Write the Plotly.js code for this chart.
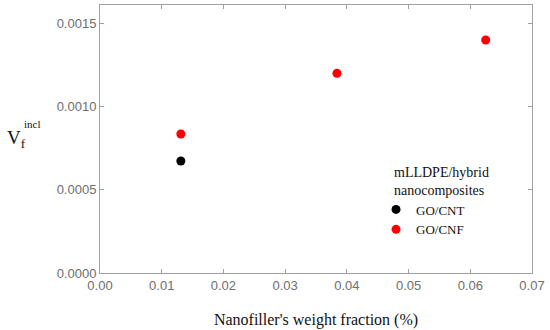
<!DOCTYPE html>
<html>
<head>
<meta charset="utf-8">
<script src="https://cdn.plot.ly/plotly-3.0.1.min.js"></script>
<style>
  body { margin: 0; background: #fff; }
  #chart { width: 550px; height: 330px; }
</style>
</head>
<body>
<div id="chart"></div>
<script>
// values
var cnt_x = [0.0131];
var cnt_y = [0.000673];
var cnf_x = [0.0131, 0.0384, 0.0625];
var cnf_y = [0.000835, 0.00120, 0.00140];

var serif = 'Liberation Serif, Times New Roman, serif';
var frame = 'rgb(160,160,160)';

var data = [
    {
        x: cnt_x, y: cnt_y,
        mode: 'markers', type: 'scatter',
        name: 'GO/CNT',
        marker: {color: 'black', size: 9}
    },
    {
        x: cnf_x, y: cnf_y,
        mode: 'markers', type: 'scatter',
        name: 'GO/CNF',
        marker: {color: 'rgb(255,0,0)', size: 9}
    }
];

var layout = {
    width: 550,
    height: 330,
    margin: {l: 100, r: 18, t: 5, b: 57},
    paper_bgcolor: 'white',
    plot_bgcolor: 'white',
    xaxis: {
        range: [0, 0.07],
        dtick: 0.01,
        tickformat: '.2f',
        showgrid: false,
        zeroline: false,
        showline: true,
        mirror: 'ticks',
        linecolor: frame,
        ticks: 'inside',
        ticklen: 4,
        tickcolor: frame,
        tickfont: {family: 'Liberation Sans, Arial, sans-serif', size: 13, color: 'rgb(110,110,110)'},
        title: {text: "Nanofiller's weight fraction (%)", font: {family: serif, size: 16, color: '#111'}, standoff: 22}
    },
    yaxis: {
        range: [0, 0.00161],
        dtick: 0.0005,
        tickformat: '.4f',
        showgrid: false,
        zeroline: false,
        showline: true,
        mirror: 'ticks',
        linecolor: frame,
        ticks: 'inside',
        ticklen: 4,
        tickcolor: frame,
        tickfont: {family: 'Liberation Sans, Arial, sans-serif', size: 13, color: 'rgb(110,110,110)'}
    },
    legend: {
        x: 0.639, y: 0.293,
        xanchor: 'left', yanchor: 'top',
        bgcolor: 'rgba(0,0,0,0)',
        font: {family: serif, size: 13, color: '#111'},
        tracegroupgap: 0
    },
    annotations: [
        {
            xref: 'paper', yref: 'paper',
            x: 0.676, y: 0.41,
            xanchor: 'left', yanchor: 'top', align: 'left',
            showarrow: false,
            text: 'mLLDPE/hybrid<br>nanocomposites',
            font: {family: serif, size: 14, color: '#111'}
        },
        {
            xref: 'paper', yref: 'paper',
            x: -0.22, y: 0.5,
            xanchor: 'left', yanchor: 'middle',
            showarrow: false,
            text: 'V<sub>f</sub>',
            font: {family: serif, size: 19, color: '#111'}
        },
        {
            xref: 'paper', yref: 'paper',
            x: -0.18, y: 0.556,
            xanchor: 'left', yanchor: 'middle',
            showarrow: false,
            text: 'incl',
            font: {family: serif, size: 11, color: '#111'}
        }
    ],
    showlegend: true
};

Plotly.newPlot('chart', data, layout, {displayModeBar: false, staticPlot: true});
</script>
</body>
</html>
